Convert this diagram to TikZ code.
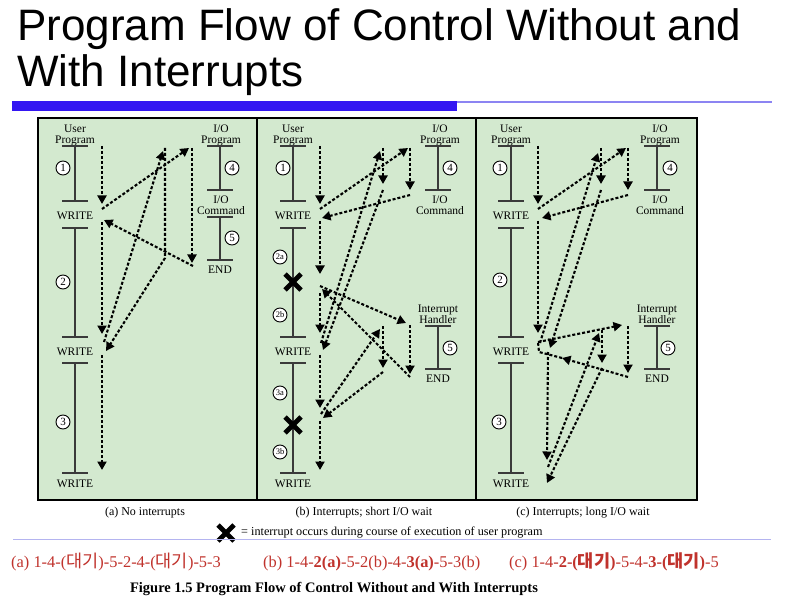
\documentclass[tikz,border=0pt]{standalone}
\usepackage{fontspec}
\setmainfont{Liberation Serif}
\newfontfamily\titlefont{Liberation Sans}
\newfontfamily\kofont{Noto Sans CJK KR}
\usetikzlibrary{arrows.meta,calc}
\definecolor{panelGreen}{HTML}{D3E9CF}
\definecolor{barInk}{HTML}{3A3A3A}
\definecolor{ruleBlue}{HTML}{3416F2}
\definecolor{ruleBlueLight}{HTML}{8C84F2}
\definecolor{capRule}{HTML}{B4B4F0}
\definecolor{seqRed}{HTML}{C0322C}
\tikzset{
  panel/.style   ={draw=black, line width=2pt, fill=panelGreen},
  barline/.style ={draw=barInk, line width=1.3pt},
  lbl/.style     ={font=\fontsize{11.5}{11}\selectfont, align=center, inner sep=0pt},
  caplbl/.style  ={font=\fontsize{12}{12}\selectfont, inner sep=0pt},
  seqlbl/.style  ={font=\fontsize{16.4}{16}\selectfont, text=seqRed, inner sep=0pt, anchor=base west},
  stepnum/.style ={circle, draw=black, line width=0.9pt, fill=white, inner sep=0pt,
                   minimum size=14pt, font=\fontsize{11}{11}\selectfont},
  stepsub/.style ={stepnum, font=\fontsize{8.5}{8.5}\selectfont},
  flow/.style    ={line width=2.1pt, dash pattern=on 3pt off 2pt,
                   -{Triangle[length=8.5pt,width=9pt]}},
  flowline/.style={line width=2.1pt, dash pattern=on 3pt off 2pt},
  xmark/.style   ={draw=black, line width=4.8pt},
}
\newcommand{\daegi}{{\kofont\fontsize{17.5}{16}\selectfont 대기}}
\newcommand{\timebar}[3]{%
  % #1 = x of the bar, #2 = top, #3 = bottom
  \draw[barline] (#1,#2) -- (#1,#3);
  \draw[barline] (#1-13,#2) -- (#1+13,#2);
  \draw[barline] (#1-13,#3) -- (#1+13,#3);
}
\newcommand{\userprog}[2]{%
  % #1 = panel prefix, #2 = x of the user-program bar
  \node[lbl] (#1-user) at (#2,135) {User\\Program};
  \timebar{#2}{146}{201}
  \node[lbl] (#1-w1) at (#2,216) {WRITE};
  \timebar{#2}{228}{337}
  \node[lbl] (#1-w2) at (#2,352) {WRITE};
  \timebar{#2}{363}{473}
  \node[lbl] (#1-w3) at (#2,484) {WRITE};
}
\newcommand{\intmark}[2]{%
  % #1 = name, #2 = centre
  \coordinate (#1) at #2;
  \draw[xmark] ($(#1)+(-8,-8)$) -- ($(#1)+(8,8)$)
               ($(#1)+(-8,8)$) -- ($(#1)+(8,-8)$);
}

\begin{document}
\begin{tikzpicture}[x=1pt,y=-1pt]
\useasboundingbox (0,0) rectangle (809,604);

% --- title ------------------------------------------------------------------
\node[font=\titlefont\fontsize{44}{46}\selectfont, anchor=base west, inner sep=0pt]
  (title1) at (17,41) {Program Flow of Control Without and};
\node[font=\titlefont\fontsize{44}{46}\selectfont, anchor=base west, inner sep=0pt]
  (title2) at (17,87) {With Interrupts};
\fill[ruleBlue] (12,101) rectangle (457,111);
\fill[ruleBlueLight] (457,101) rectangle (772,102.8);

% --- panels -----------------------------------------------------------------
\foreach \l/\r in {38/257, 257/476, 476/697}
  \draw[panel] (\l,118) rectangle (\r,500);

% --- panel (a): no interrupts -----------------------------------------------
\userprog{a}{75}
\node[stepnum] (a-s1) at (63,168) {1};
\node[stepnum] (a-s2) at (63,282) {2};
\node[stepnum] (a-s3) at (63,422) {3};
\node[lbl] (a-io) at (221,135) {I/O\\Program};
\timebar{220}{146}{190}
\node[stepnum] (a-s4) at (232,168) {4};
\node[lbl] (a-cmd) at (221,205) {I/O\\Command};
\timebar{220}{217}{260}
\node[stepnum] (a-s5) at (232,238) {5};
\node[lbl] (a-end) at (220,270) {END};

\foreach \n/\x/\y in {a0/102/146, a1/102/204, a2/102/209, a3/189/148,
    a4/192/148, a5/192/263, a6/193/266, a7/104/220, a8/102/222, a9/102/334,
    a10/104/342, a11/163/151, a12/165/148, a13/165/258, a14/106/351,
    a15/102/355, a16/102/470}
  \coordinate (\n) at (\x,\y);
\foreach \s/\e in {0/1, 2/3, 4/5, 6/7, 8/9, 10/11, 15/16}
  \draw[flow] (a\s) -- (a\e);
\draw[flow] (a12) -- (a13) -- (a14);

% --- panel (b): short I/O wait ----------------------------------------------
\userprog{b}{293}
\node[stepnum] (b-s1)  at (283,168) {1};
\node[stepsub] (b-s2a) at (280,257) {2a};
\node[stepsub] (b-s2b) at (280,315) {2b};
\node[stepsub] (b-s3a) at (280,393) {3a};
\node[stepsub] (b-s3b) at (280,452) {3b};
\intmark{b-x1}{(293,282)}
\intmark{b-x2}{(293,425)}
\node[lbl] (b-io) at (440,135) {I/O\\Program};
\timebar{438}{146}{190}
\node[stepnum] (b-s4) at (450,168) {4};
\node[lbl] (b-cmd) at (440,205) {I/O\\Command};
\node[lbl] (b-ih) at (438,314) {Interrupt\\Handler};
\timebar{438}{326}{369}
\node[stepnum] (b-s5) at (450,348) {5};
\node[lbl] (b-end) at (438,379) {END};

\foreach \n/\x/\y in {b0/320/146, b1/320/204, b2/320/209, b3/408/148,
    b4/410/148, b5/410/190, b6/410/195, b7/322/218, b8/320/221, b9/320/274,
    b10/320/286, b11/406/323, b12/410/325, b13/410/374, b14/410/377,
    b15/322/289, b16/320/293, b17/320/333, b18/321/343, b19/380/151,
    b20/383/148, b21/383/184, b22/383/190, b23/323/350, b24/320/355,
    b25/320/408, b26/321/414, b27/380/329, b28/383/326, b29/383/368,
    b30/383/372, b31/323/418, b32/320/421, b33/320/470}
  \coordinate (\n) at (\x,\y);
\foreach \s/\e in {0/1, 2/3, 4/5, 6/7, 8/9, 10/11, 12/13, 14/15, 16/17,
    18/19, 20/21, 22/23, 24/25, 26/27, 28/29, 30/31, 32/33}
  \draw[flow] (b\s) -- (b\e);

% --- panel (c): long I/O wait -----------------------------------------------
\userprog{c}{511}
\node[stepnum] (c-s1) at (500,168) {1};
\node[stepnum] (c-s2) at (500,280) {2};
\node[stepnum] (c-s3) at (499,422) {3};
\node[lbl] (c-io) at (660,135) {I/O\\Program};
\timebar{657}{146}{190}
\node[stepnum] (c-s4) at (670,168) {4};
\node[lbl] (c-cmd) at (660,205) {I/O\\Command};
\node[lbl] (c-ih) at (657,314) {Interrupt\\Handler};
\timebar{657}{326}{369}
\node[stepnum] (c-s5) at (668,348) {5};
\node[lbl] (c-end) at (657,379) {END};

\foreach \n/\x/\y in {c0/538/146, c1/538/204, c2/538/209, c3/626/148,
    c4/628/148, c5/628/190, c6/628/195, c7/542/218, c8/538/221, c9/538/333,
    c10/538/342, c11/622/325, c12/628/326, c13/628/373, c14/628/377,
    c15/562/358, c16/540/343, c17/598/153, c18/601/148, c19/601/184,
    c20/601/190, c21/550/348, c22/548/352, c23/547/460, c24/548/467,
    c25/599/333, c26/602/330, c27/602/363, c28/602/368, c29/547/483,
    c30/539/352}
  \coordinate (\n) at (\x,\y);
\foreach \s/\e in {0/1, 2/3, 4/5, 6/7, 8/9, 10/11, 12/13, 14/15, 16/17,
    18/19, 20/21, 22/23, 24/25, 26/27, 28/29}
  \draw[flow] (c\s) -- (c\e);
\draw[flowline] (c15) -- (c30) -- (c10);

% --- captions and legend ----------------------------------------------------
\node[caplbl] (cap-a) at (145,513) {(a) No interrupts};
\node[caplbl] (cap-b) at (364,513) {(b) Interrupts; short I/O wait};
\node[caplbl] (cap-c) at (583,513) {(c) Interrupts; long I/O wait};
\intmark{leg-x}{(226,533)}
\node[caplbl, font=\fontsize{12.2}{12}\selectfont, anchor=west] (leg)
  at (241,533) {= interrupt occurs during course of execution of user program};
\draw[capRule, line width=1pt] (13,539.5) -- (771,539.5);

% --- flow sequences ---------------------------------------------------------
\node[seqlbl] (seq-a) at (11,567) {(a) 1-4-(\daegi)-5-2-4-(\daegi)-5-3};
\node[seqlbl] (seq-b) at (263,567)
  {(b) 1-4-\textbf{2(a)}-5-2(b)-4-\textbf{3(a)}-5-3(b)};
\node[seqlbl] (seq-c) at (509,567)
  {(c) 1-4-\textbf{2-(\daegi)}-5-4-\textbf{3-(\daegi)}-5};

\node[font=\bfseries\fontsize{14.5}{14.5}\selectfont, inner sep=0pt] (fig)
  at (334,589) {Figure 1.5 Program Flow of Control Without and With Interrupts};

\end{tikzpicture}
\end{document}
